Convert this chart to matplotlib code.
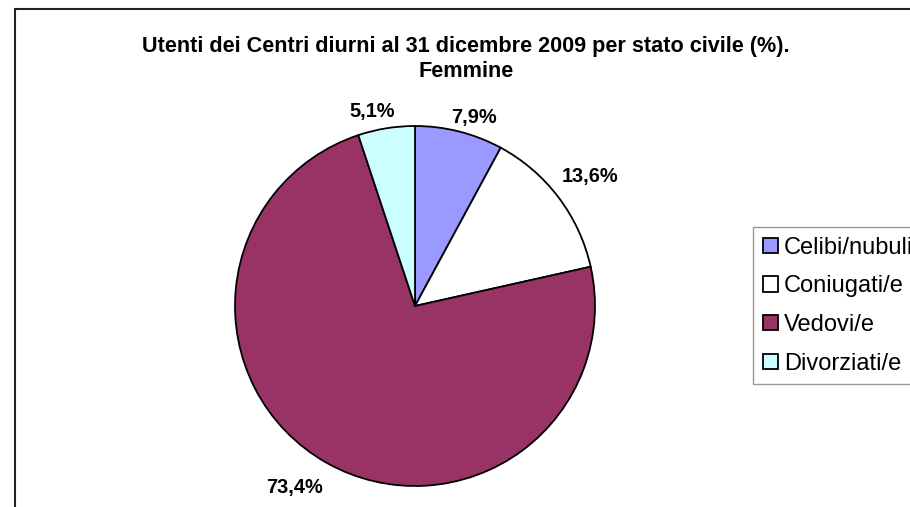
import matplotlib
matplotlib.use("Agg")
import matplotlib.pyplot as plt
from matplotlib.patches import Rectangle

plt.rcParams['font.family'] = ['Liberation Sans', 'DejaVu Sans']

categories = ["Celibi/nubuli", "Coniugati/e", "Vedovi/e", "Divorziati/e"]
values = [7.9, 13.6, 73.4, 5.1]
value_labels = ["7,9%", "13,6%", "73,4%", "5,1%"]
colors = ["#9999FF", "#FFFFFF", "#993366", "#CCFFFF"]
title = "Utenti dei Centri diurni al 31 dicembre 2009 per stato civile (%).\nFemmine"

W, H = 910, 507
fig = plt.figure(figsize=(W / 100, H / 100), dpi=100)
fig.patch.set_facecolor("white")

# outer chart frame (extends past right and bottom edge)
frame = Rectangle((15 / W, -0.2), 1.2, (H - 9) / H + 0.2, transform=fig.transFigure,
                  fill=False, edgecolor="#222222", linewidth=1.5, clip_on=True)
fig.patches.append(frame)

# pie axes: centre (415, 306) px, radius 180 px
cx, cy, r = 415, 306, 180
ax = fig.add_axes([(cx - r) / W, (H - cy - r) / H, 2 * r / W, 2 * r / H])
wedges, _ = ax.pie(values, colors=colors, startangle=90, counterclock=False,
                   wedgeprops=dict(edgecolor="black", linewidth=1.3))
ax.set_xlim(-1, 1)
ax.set_ylim(-1, 1)
ax.set_aspect("equal")
ax.axis("off")

# label positions (data units of the pie axes)
label_pos = [(0.328, 1.050), (0.972, 0.722), (-0.667, -1.006), (-0.239, 1.078)]
for (x, y), txt in zip(label_pos, value_labels):
    ax.text(x, y, txt, ha="center", va="center", fontsize=14.4,
            fontweight="bold", clip_on=False)

fig.text(466 / W, 1 - 59 / H, title, ha="center", va="center", fontsize=15.6,
         fontweight="bold", linespacing=1.2)

leg = fig.legend(wedges, categories, loc="upper left",
                 bbox_to_anchor=(753 / W, 1 - 227 / H), fontsize=17,
                 frameon=True, fancybox=False, shadow=False,
                 handlelength=0.62, handleheight=0.62, handletextpad=0.26,
                 labelspacing=0.7, borderpad=0.42, borderaxespad=0)
leg.get_frame().set_edgecolor("#808080")
leg.get_frame().set_linewidth(1.0)

fig.savefig("out.png", dpi=100)
